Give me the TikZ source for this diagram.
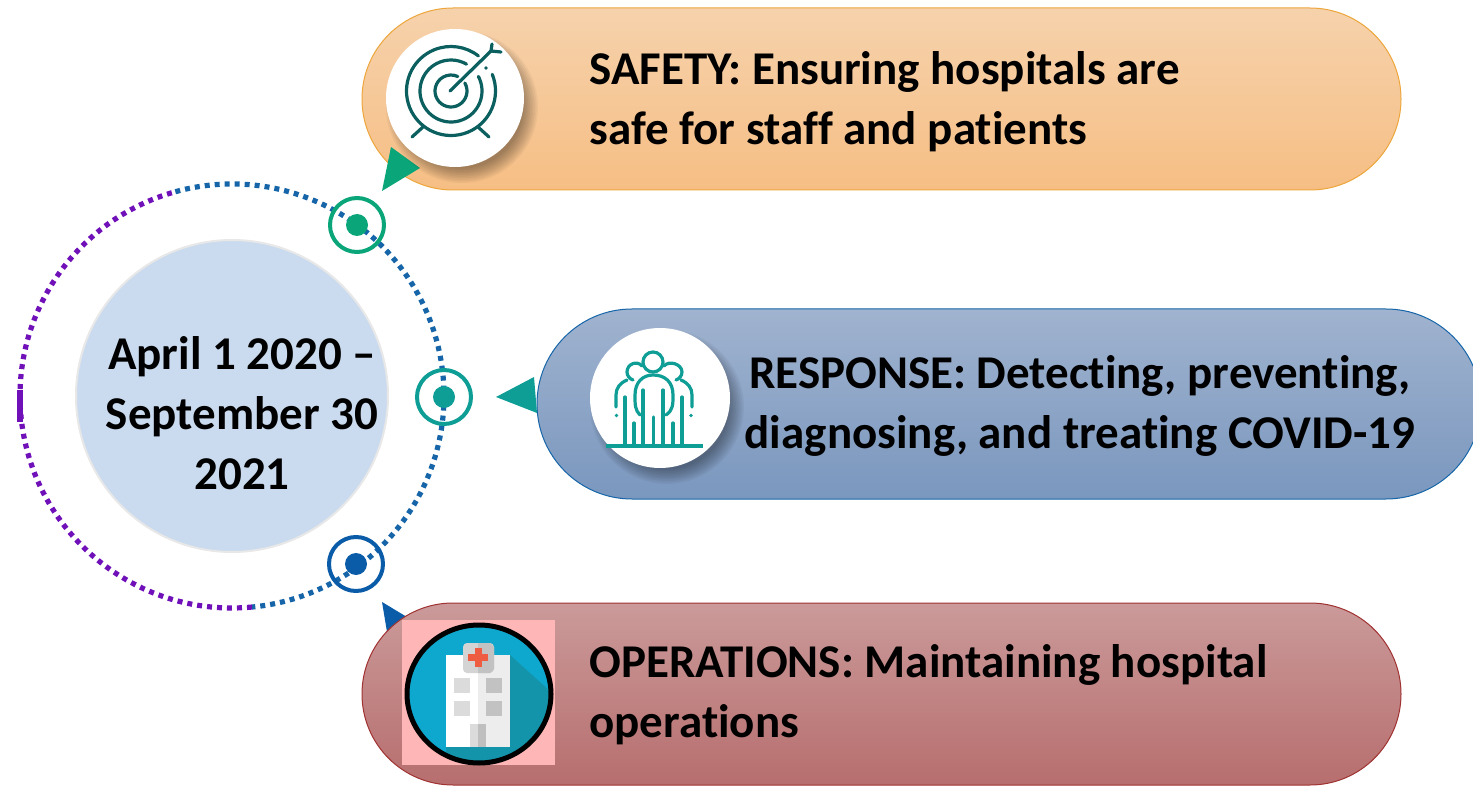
\documentclass[tikz,border=0pt]{standalone}
\usepackage{fontspec}
\setmainfont[Ligatures=NoCommon]{Carlito}
\usetikzlibrary{calc}
\definecolor{darkteal}{HTML}{0B5F5F}
\definecolor{teal2}{HTML}{0F9E96}
\definecolor{ringgreen}{HTML}{0BA57A}
\definecolor{ringblue}{HTML}{0B5CA8}
\definecolor{dotblue}{HTML}{1565A8}
\definecolor{dotpurple}{HTML}{7010B8}
\definecolor{orangetop}{HTML}{F6D2AC}
\definecolor{orangebot}{HTML}{F6BE84}
\definecolor{orangeline}{HTML}{EDA63C}
\definecolor{bluetop}{HTML}{A0B3CF}
\definecolor{bluebot}{HTML}{7A97BE}
\definecolor{redtop}{HTML}{CB9A9A}
\definecolor{redbot}{HTML}{B76E6E}
\definecolor{redline}{HTML}{A03232}
\definecolor{bigdisc}{HTML}{CBDBEF}
\definecolor{pinkbox}{HTML}{FFB6B6}
\definecolor{skyblue}{HTML}{0EA8CF}
\definecolor{skydark}{HTML}{1494AA}
\definecolor{crossred}{HTML}{EE5C42}
\tikzset{
  pill/.style={line width=0.5pt},
  boldtext/.style={font=\bfseries\fontsize{23.5}{30}\selectfont,text=black,inner sep=0pt},
  label/.style={boldtext,align=left,anchor=west},
  whitedisc/.style={fill=white},
  dots/.style={line width=2.6pt,dash pattern=on 2.5pt off 2.5pt},
  ring/.style={line width=2pt},
  icon/.style={line width=1.6pt,line cap=round,draw=darkteal},
  icontwo/.style={line width=1.6pt,line cap=round,draw=teal2}
}
\newcommand{\softshadow}[3]{%
  \foreach \k in {0,...,9}{%
    \fill[black,opacity=0.04] ($(#1,#2)+(7,9)$) circle ({#3+7-1.6*\k});
  }}
\newcommand{\ringarc}[5]{% cx cy r start end
  \draw[icon] ($(#1,#2)+(#4:#3)$) arc[start angle=#4,end angle=#5,radius=#3];}
\begin{document}
\begin{tikzpicture}[x=0.5pt,y=-0.5pt]
\useasboundingbox (0,0) rectangle (1473,786);
\clip (0,0) rectangle (1473,786);
% top pill
\draw[pill,draw=orangeline,top color=orangetop,bottom color=orangebot]
  (453,8) -- (1310,8) arc[start angle=-90,end angle=90,radius=91] -- (453,190) arc[start angle=90,end angle=270,radius=91] -- cycle;
% middle pill
\draw[pill,draw=dotblue,top color=bluetop,bottom color=bluebot]
  (632,309) -- (1386,309) arc[start angle=-90,end angle=90,radius=95] -- (632,499) arc[start angle=90,end angle=270,radius=95] -- cycle;
% bottom triangle under the pill
\fill[ringblue] (382,602) -- (412,620) -- (387,632) -- cycle;
% bottom pill
\draw[pill,draw=redline,top color=redtop,bottom color=redbot]
  (453,603) -- (1310,603) arc[start angle=-90,end angle=90,radius=91] -- (453,785) arc[start angle=90,end angle=270,radius=91] -- cycle;
% triangles
\fill[ringgreen] (391,147) -- (420,168) -- (382,191) -- cycle;
\fill[teal2] (534,377) -- (496,397) -- (537,413) -- cycle;
% large circle
\draw[black!9,line width=1pt,fill=bigdisc] (232,396) circle (156);
% dotted ring
\draw[dots,dotblue] ($(232,396)+(-105.5:212)$) arc[start angle=-105.5,end angle=84.6,radius=212];
\draw[dots,dotpurple] ($(232,396)+(84.6:212)$) arc[start angle=84.6,end angle=254.5,radius=212];
\draw[dotpurple,line width=2.6pt] (20,390) -- (20,422);
% small rings
\draw[ring,draw=ringgreen] (357,225) circle (27);
\fill[ringgreen] (357,225) circle (11);
\draw[ring,draw=teal2] (444,397) circle (27);
\fill[teal2] (444,397) circle (11);
\draw[ring,draw=ringblue] (356,564) circle (27);
\fill[ringblue] (356,564) circle (11);
% target icon
\softshadow{455}{98}{69}
\fill[whitedisc] (455,98) circle (69);
\ringarc{451}{91}{44.5}{-22}{308}
\ringarc{451}{91}{31}{-28}{300}
\ringarc{451}{91}{16}{-30}{295}
\begin{scope}[shift={(360,0)}]
\draw[icon] (90,91) -- (131,51);
\draw[icon] (131,51) -- (132,44);
\draw[icon] (131,51) -- (141,52);
\fill[darkteal] (126,68) circle (1.8);
\draw[icon] (63,127) -- (52,137);
\draw[icon] (118,127) -- (129,137);
\end{scope}
% people icon
\softshadow{660}{398}{70}
\fill[whitedisc] (660,398) circle (70);
\begin{scope}[shift={(490,310)}]
\draw[icontwo] (163,52) circle (10);
\draw[icontwo] (152,56) .. controls (147,50) and (137,54) .. (137,62) .. controls (137,66) and (140,69) .. (143,70);
\draw[icontwo] (174,56) .. controls (179,50) and (192,54) .. (192,62) .. controls (192,66) and (189,69) .. (186,70);
\draw[icontwo] (150,105) .. controls (145,100) and (145,95) .. (145,85) .. controls (145,72) and (153,65) .. (163,65) .. controls (175,65) and (183,72) .. (183,85) .. controls (183,95) and (183,100) .. (176,105);
\draw[icontwo] (126,97) -- (126,85) .. controls (126,78) and (130,73) .. (137,70);
\draw[icontwo] (202,97) -- (202,85) .. controls (202,78) and (198,73) .. (191,70);
\draw[icontwo] (135,87) -- (135,135);
\draw[icontwo] (153,80) -- (153,135);
\draw[icontwo] (173,80) -- (173,135);
\draw[icontwo] (192,87) -- (192,135);
\draw[icontwo] (144,113) -- (144,135);
\draw[icontwo] (163.5,107) -- (163.5,135);
\draw[icontwo] (183,113) -- (183,135);
\fill[teal2] (126.5,105.5) circle (1.8);
\fill[teal2] (201,105.5) circle (1.8);
\draw[icontwo,line cap=butt] (116,136) -- (213,136);
\end{scope}
% hospital icon
\fill[pinkbox] (402,620) rectangle (555,765);
\fill[skyblue] (479,694) ellipse [x radius=72,y radius=69];
\begin{scope}
\clip (479,694) ellipse [x radius=72,y radius=69];
\fill[skydark] (510,655) -- (560,700) -- (560,780) -- (446,780) -- (446,747) -- cycle;
\end{scope}
\draw[black,line width=2.5pt] (479,694) ellipse [x radius=72,y radius=69];
\fill[white] (446,655) rectangle (478,747);
\fill[black!7] (478,655) rectangle (510,747);
\fill[black!17,rounded corners=2pt] (463,643) rectangle (494,673);
\fill[black!24] (478,643) -- (490,643) -- (494,647) -- (494,669) -- (490,673) -- (478,673) -- cycle;
\fill[crossred] (468,654) rectangle (488,661);
\fill[crossred] (474.5,648) rectangle (481.5,667);
\foreach \yy in {678,701}{
  \fill[black!14] (454,\yy) rectangle (470,\yy+15);
  \fill[black!24] (486,\yy) rectangle (502,\yy+15);
}
\fill[black!14] (470,724) rectangle (478,747);
\fill[black!25] (478,724) rectangle (486,747);
% text
\node[boldtext,align=center] (date) at (242,413) {April 1 2020 –\\September 30\\2021};
\node[label] (safety) at (589,102) {SAFETY: Ensuring hospitals are\\safe for staff and patients};
\node[boldtext,align=center] (response) at (1080,406) {RESPONSE: Detecting, preventing,\\diagnosing, and treating COVID-19};
\node[label] (operations) at (589,695) {OPERATIONS: Maintaining hospital\\operations};
\end{tikzpicture}
\end{document}
